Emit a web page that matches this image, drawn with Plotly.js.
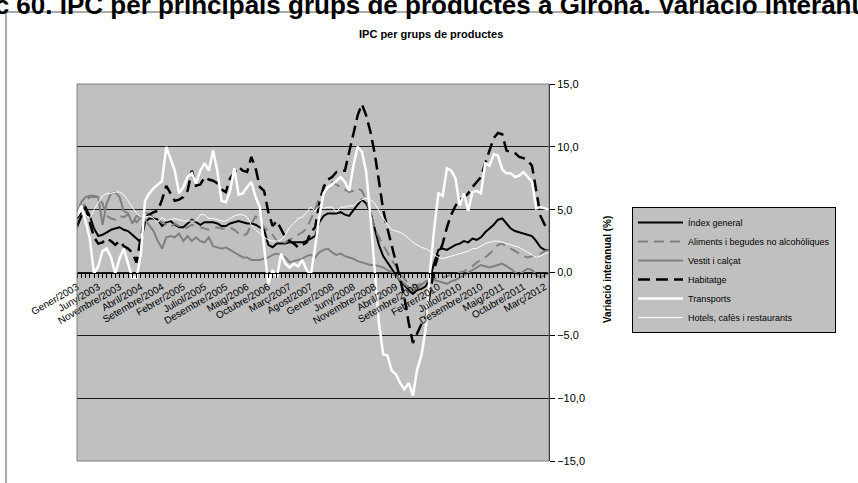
<!DOCTYPE html>
<html>
<head>
<meta charset="utf-8">
<script src="https://cdn.plot.ly/plotly-3.0.1.min.js"></script>
<style>html,body{margin:0;padding:0;background:#fff;}#chart{width:858px;height:483px;}</style>
</head>
<body>
<div id="chart"></div>
<script>
// Month names and years used to build the monthly categories (Gener/2003 .. Abril/2012)
const monthNames = ['Gener','Febrer','Març','Abril','Maig','Juny','Juliol','Agost','Setembre','Octubre','Novembre','Desembre'];
const years = [2003,2004,2005,2006,2007,2008,2009,2010,2011,2012];
const nMonths = 112;

// Labelled ticks
const tickLabels = ['Gener/2003','Juny/2003','Novembre/2003','Abril/2004','Setembre/2004','Febrer/2005','Juliol/2005','Desembre/2005','Maig/2006','Octubre/2006','Març/2007','Agost/2007','Gener/2008','Juny/2008','Novembre/2008','Abril/2009','Setembre/2009','Febrer/2010','Juliol/2010','Desembre/2010','Maig/2011','Octubre/2011','Març/2012'];

// Series (year-on-year change, %)
const indexGeneral = [4.3,4.8,5.2,4.5,3.5,2.9,3.0,3.2,3.4,3.5,3.6,3.4,3.3,3.0,2.7,2.4,4.0,4.3,4.3,4.2,3.7,4.0,4.1,3.8,3.6,3.6,3.9,4.2,4.0,3.8,4.0,4.0,4.0,3.9,3.7,3.7,3.9,4.0,4.1,4.0,3.9,3.9,3.8,3.6,3.4,2.2,2.0,2.3,2.3,2.3,2.4,2.4,2.4,2.4,2.5,2.7,2.9,4.0,4.5,4.7,4.7,4.7,4.8,4.6,4.5,5.0,5.4,5.8,5.5,4.8,3.6,2.2,1.3,0.8,0.3,-0.2,-0.7,-1.0,-1.4,-1.7,-1.4,-1.3,-1.1,-0.5,0.8,1.8,1.9,1.8,2.0,2.2,2.3,2.5,2.4,2.7,2.6,2.8,3.2,3.5,3.8,4.2,4.3,3.9,3.5,3.3,3.2,3.1,3.0,2.9,2.5,2.0,1.8,1.8];

const aliments = [3.5,4.7,5.7,6.0,6.0,6.0,5.5,4.5,4.3,4.2,4.5,4.4,4.6,4.4,4.0,4.4,4.8,4.6,4.4,4.2,4.0,3.8,3.6,3.9,3.7,3.5,3.6,3.8,3.7,3.6,3.5,3.4,3.5,3.6,3.5,3.5,3.6,3.4,3.1,2.9,3.1,3.8,4.5,4.0,3.6,3.3,3.0,2.5,2.3,2.4,2.6,2.8,3.0,3.2,3.5,4.2,5.0,6.0,6.6,6.8,7.2,7.0,6.8,6.6,6.4,6.5,6.7,6.5,5.8,4.8,3.5,2.8,2.2,1.5,1.0,0.5,-0.1,-0.5,-0.9,-1.0,-1.0,-0.9,-0.8,-0.6,-0.5,-0.4,-0.4,-0.3,-0.2,-0.2,0.0,0.1,0.3,0.5,0.8,1.0,1.2,1.5,1.8,2.2,2.3,2.1,1.9,1.7,1.5,1.3,1.2,1.3,1.4,1.5,1.7,1.8];

const vestit = [4.7,5.6,6.0,6.1,6.1,6.0,3.8,5.5,6.3,6.4,6.0,4.9,4.7,3.9,4.5,4.4,4.2,3.7,3.3,2.5,1.9,2.8,2.9,2.8,3.1,2.5,2.9,2.5,2.8,2.5,2.4,2.8,2.1,2.0,1.9,2.0,1.8,1.6,1.4,1.2,1.2,1.0,1.0,1.0,1.1,1.2,1.4,1.5,1.4,1.2,0.8,0.9,1.0,1.1,1.3,1.4,1.2,1.6,1.8,1.9,1.6,1.4,1.5,1.3,1.2,1.1,0.9,0.8,0.7,0.6,0.6,0.5,0.4,0.2,0.0,-0.3,-0.6,-0.9,-1.2,-1.4,-1.3,-1.0,-0.7,-0.6,-0.6,-0.7,-0.8,-0.9,-0.7,-0.6,-0.4,-0.2,0.0,0.2,0.4,0.6,0.5,0.4,0.5,0.6,0.7,0.5,0.3,0.0,-0.2,0.1,0.3,0.2,-0.2,-0.4,-0.2,0.0];

const habitatge = [3.7,4.5,5.2,4.0,2.8,2.3,2.4,2.7,2.5,2.2,2.5,2.1,1.9,1.6,0.8,2.8,4.4,4.6,4.8,4.9,5.8,6.9,6.3,5.7,5.8,6.0,6.5,8.1,6.9,7.0,7.6,7.4,7.3,7.1,6.6,6.4,7.5,8.0,8.4,8.1,8.0,9.2,8.3,6.8,6.5,4.8,3.7,4.1,3.5,2.8,2.5,2.3,2.0,2.2,2.4,3.2,3.6,5.5,6.8,7.4,7.6,8.0,8.1,8.1,9.6,11.2,12.5,13.4,12.5,11.2,9.5,7.3,5.0,3.5,2.2,0.9,-0.5,-2.0,-4.0,-5.6,-4.8,-4.1,-3.6,-1.8,0.3,1.4,2.3,3.6,4.6,5.3,5.8,6.0,6.3,6.8,7.2,7.6,8.7,9.8,10.7,11.1,11.0,9.7,9.6,9.5,9.2,9.1,8.9,8.5,6.5,4.5,3.8,3.3];

const transports = [4.5,5.3,4.1,2.7,-0.1,0.5,1.7,1.9,1.2,-0.1,1.1,1.9,0.7,-0.4,-0.4,1.4,5.7,6.3,6.7,7.0,7.3,10.0,9.1,8.1,6.3,6.8,7.6,7.9,7.1,8.1,8.7,8.1,9.7,8.1,5.7,5.6,6.5,8.3,6.2,6.3,6.8,7.2,6.0,5.2,2.0,-0.9,0.2,-0.4,1.5,0.7,0.4,0.7,0.5,1.0,0.2,-0.2,2.0,4.5,6.3,6.8,7.0,7.3,7.6,7.2,6.5,8.5,10.0,9.6,8.0,4.5,0.5,-4.0,-6.5,-6.6,-7.8,-8.1,-8.8,-9.3,-8.8,-9.8,-7.7,-6.6,-4.5,0.0,3.5,6.3,6.1,8.3,8.1,7.5,5.3,6.3,4.9,6.4,6.5,6.3,8.7,8.5,9.4,9.3,8.2,7.9,7.9,7.6,7.7,8.0,7.6,7.2,5.1,5.2,5.1,5.0];

const hotels = [4.4,4.9,4.6,4.3,5.0,5.5,6.1,6.3,6.3,6.4,6.4,6.2,5.7,5.2,4.7,4.4,4.4,4.5,4.3,4.0,4.4,4.1,4.2,4.3,4.2,4.1,4.1,4.1,4.1,4.6,4.6,4.3,4.3,4.2,4.1,4.1,4.3,4.5,4.6,4.6,4.4,3.8,3.4,3.1,2.8,2.6,2.5,2.5,2.6,3.0,3.6,3.9,4.3,4.4,4.8,5.2,4.9,5.3,5.1,5.2,5.2,4.8,5.2,5.2,5.3,5.3,5.6,5.8,5.9,5.8,5.5,4.9,4.3,3.8,3.4,3.3,3.2,3.0,2.7,2.4,2.2,2.0,1.9,1.7,1.4,1.2,1.1,1.2,1.3,1.4,1.5,1.6,1.7,1.9,1.9,2.1,2.3,2.4,2.5,2.5,2.4,2.3,2.2,2.1,2.0,1.8,1.6,1.4,1.2,1.3,1.5,1.6];

const seriesNames = ['Índex general','Aliments i begudes no alcohòliques','Vestit i calçat','Habitatge','Transports','Hotels, cafès i restaurants'];

const categories = [];
for (const y of years) for (const m of monthNames) if (categories.length < nMonths) categories.push(m + '/' + y);
const ticktext = categories.map(c => tickLabels.includes(c) ? c : '');

const styles = [
  {color:'#000000', width:2, dash:'solid'},
  {color:'#808080', width:2, dash:'10px,6px'},
  {color:'#808080', width:2, dash:'solid'},
  {color:'#000000', width:2.5, dash:'12px,6px'},
  {color:'#ffffff', width:2.5, dash:'solid'},
  {color:'#ffffff', width:1, dash:'solid'}
];
const values = [indexGeneral, aliments, vestit, habitatge, transports, hotels];
const traces = values.map((v,k) => ({
  type:'scatter', mode:'lines', x:categories, y:v, name:seriesNames[k],
  line:Object.assign({shape:'linear'}, styles[k]), hoverinfo:'skip'
}));

// Pixel helpers for the fixed plot area (x 77..549, y 84..461)
const L=77, R=549, T=84, B=461, W=858, H=483;
const px = x => (x-L)/(R-L);
const py = y => (B-y)/(B-T);

const layout = {
  width:W, height:H,
  margin:{l:L, r:W-R, t:T, b:H-B, pad:0},
  paper_bgcolor:'#ffffff', plot_bgcolor:'#C0C0C0',
  separators:',.',
  font:{family:'"Liberation Sans", Arial, sans-serif', color:'#000'},
  showlegend:true,
  xaxis:{
    type:'category', range:[0, nMonths-1], anchor:'free', position:0.5,
    tickmode:'array', tickvals:categories, ticktext:ticktext,
    ticks:'outside', ticklen:4, tickwidth:1, tickcolor:'#000',
    tickangle:-30, tickfont:{size:10}, showgrid:false, zeroline:false,
    showline:true, linecolor:'#000', linewidth:1, automargin:false, fixedrange:true
  },
  yaxis:{
    range:[-15,15], side:'right', dtick:5, tick0:0, tickformat:'.1f',
    ticks:'outside', ticklen:5, tickcolor:'#000', tickfont:{size:11},
    showgrid:true, gridcolor:'#1a1a1a', gridwidth:1, zeroline:false,
    showline:true, linecolor:'#000', linewidth:1, automargin:false, fixedrange:true
  },
  legend:{
    x:px(632), y:py(207), xanchor:'left', yanchor:'top',
    bgcolor:'#C0C0C0', bordercolor:'#000', borderwidth:1,
    font:{size:9}, itemwidth:45, tracegroupgap:0
  },
  shapes:[
    {type:'rect', xref:'paper', yref:'paper', x0:px(6), x1:px(900), y0:py(12), y1:py(520),
     line:{color:'#555', width:1}, fillcolor:'rgba(0,0,0,0)', layer:'below'},
    {type:'rect', xref:'paper', yref:'paper', x0:0, x1:1, y0:0, y1:1,
     line:{color:'#808080', width:1}, fillcolor:'rgba(0,0,0,0)', layer:'above'}
  ],
  annotations:[
    {text:'<b>Gràfic 60. IPC per principals grups de productes a Girona. Variació interanual</b>',
     xref:'paper', yref:'paper', x:px(891), y:py(5), xanchor:'right', yanchor:'middle',
     showarrow:false, font:{size:26, family:'"Liberation Sans", Arial, sans-serif'}},
    {text:'<b>IPC per grups de productes</b>', xref:'paper', yref:'paper',
     x:px(431), y:py(34), xanchor:'center', yanchor:'middle', showarrow:false, font:{size:11}},
    {text:'<b>Variació interanual (%)</b>', xref:'paper', yref:'paper',
     x:px(607), y:py(270), xanchor:'center', yanchor:'middle', textangle:-90, showarrow:false, font:{size:10}}
  ]
};

Plotly.newPlot('chart', traces, layout, {staticPlot:true, displayModeBar:false});
</script>
</body>
</html>
